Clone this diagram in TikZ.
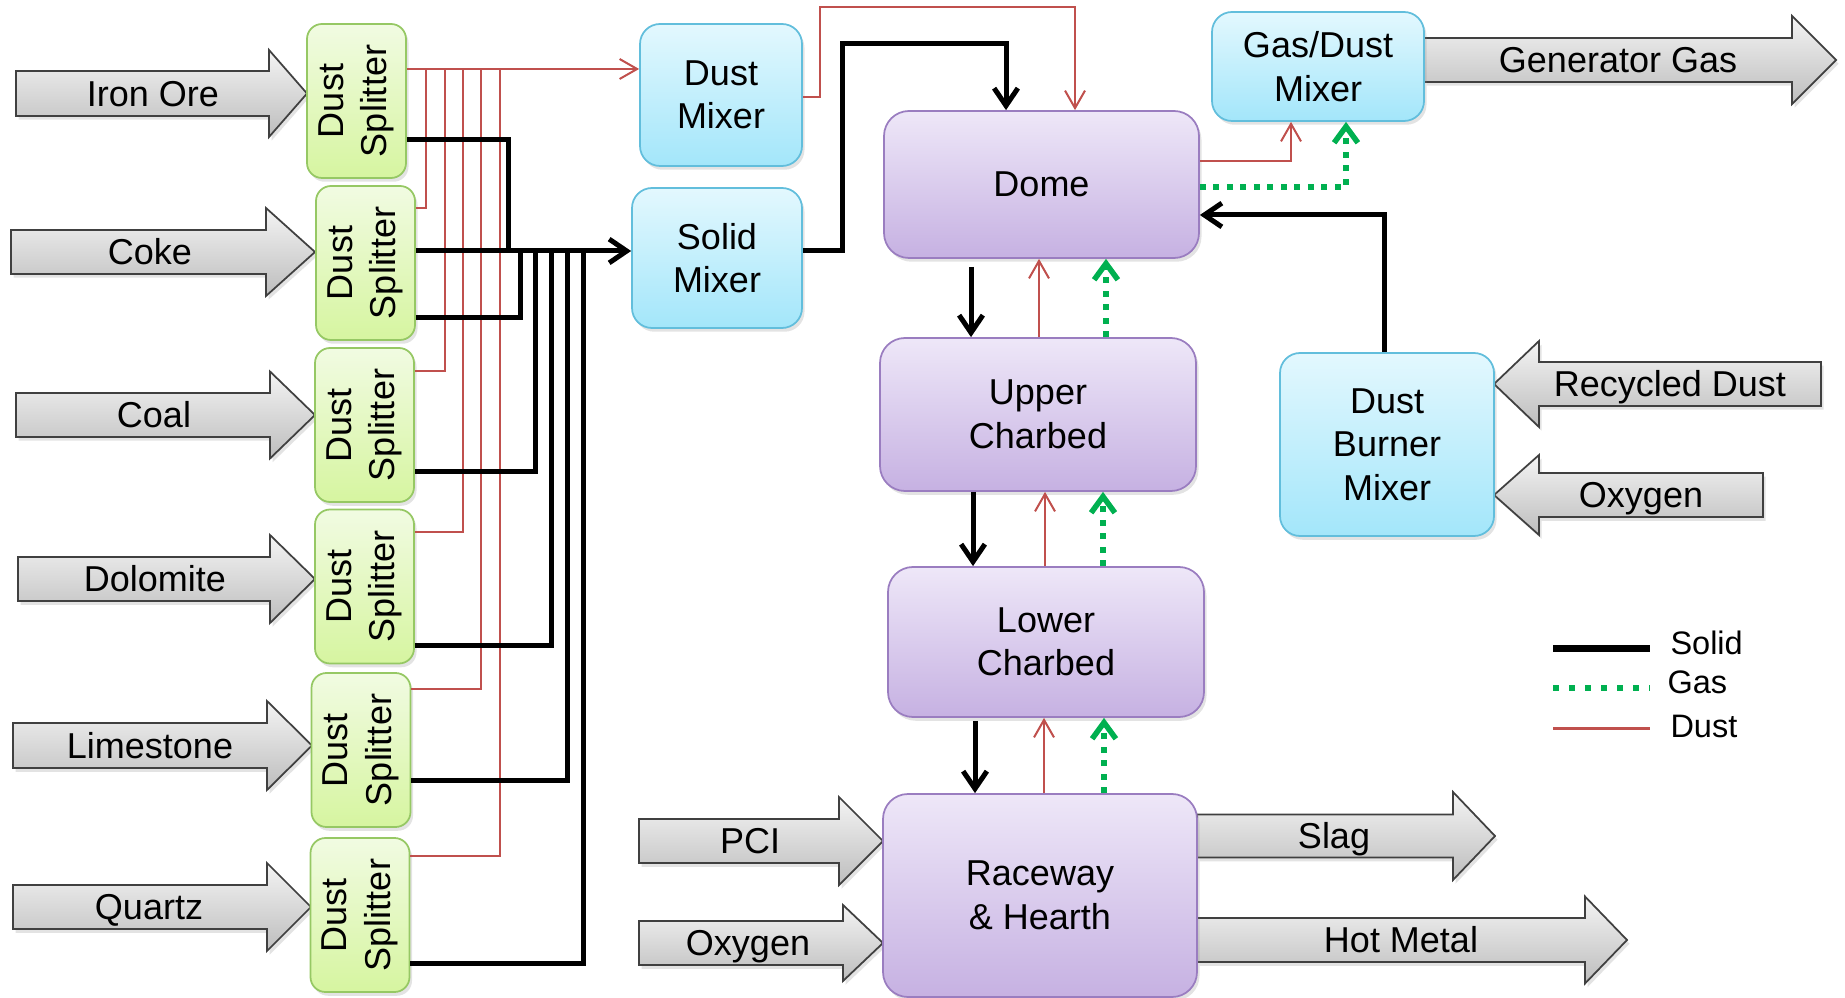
\documentclass[tikz,border=0pt]{standalone}
\usepackage{fontspec}
\setmainfont{Liberation Sans}
\usetikzlibrary{arrows.meta,shadows,calc}
\definecolor{dustred}{HTML}{C0504D}
\definecolor{gasgreen}{HTML}{00B050}
\definecolor{graytop}{HTML}{F4F4F4}
\definecolor{graybot}{HTML}{BDBDBD}
\definecolor{grayborder}{HTML}{404040}
\definecolor{splittop}{HTML}{F1FBE2}
\definecolor{splitbot}{HTML}{D6F5A0}
\definecolor{splitborder}{HTML}{96C864}
\definecolor{bluetop}{HTML}{E3F8FE}
\definecolor{bluebot}{HTML}{A3E6FA}
\definecolor{blueborder}{HTML}{62BEDC}
\definecolor{purptop}{HTML}{EEE7F8}
\definecolor{purpbot}{HTML}{C6B1E2}
\definecolor{purpborder}{HTML}{9A7DC0}
\newcommand\flowarrow[9]{%
  \path[grayarrow] (#1,#4-#5) -- (#2,#4-#5) -- (#2,#4-#6) -- (#3,#4) -- (#2,#4+#6) -- (#2,#4+#5) -- (#1,#4+#5) -- cycle;
  \node[lbl] (#7) at (#9,#4) {#8};}
\begin{document}
\begin{tikzpicture}[x=0.4pt,y=-0.4pt,
  every node/.style={font=\fontsize{14.4}{17.4}\selectfont},
  box/.style={rounded corners=8pt, inner sep=0pt, align=center, line width=0.7pt,
    drop shadow={shadow xshift=1pt,shadow yshift=-1.5pt,opacity=0.22}},
  splitbox/.style={box, rotate=90, draw=splitborder, top color=splittop, bottom color=splitbot,
    minimum width=61.6pt, minimum height=39.6pt, rounded corners=6pt},
  bluebox/.style={box, draw=blueborder, top color=bluetop, bottom color=bluebot},
  purpbox/.style={box, draw=purpborder, top color=purptop, bottom color=purpbot, rounded corners=10pt},
  grayarrow/.style={draw=grayborder, line width=0.7pt, top color=graytop, bottom color=graybot,
    drop shadow={shadow xshift=1pt,shadow yshift=-1.5pt,opacity=0.22}},
  lbl/.style={inner sep=0pt, text height=10.3pt, text depth=0pt},
  dustln/.style={draw=dustred, line width=0.8pt},
  dusttip/.style={dustln, -{Straight Barb[length=7pt,width=8pt,line width=0.8pt]}},
  solidln/.style={draw=black, line width=2pt},
  solidtip/.style={solidln, -{Straight Barb[length=7pt,width=9.5pt,line width=2pt]}},
  gasln/.style={draw=gasgreen, line width=2.2pt, dash pattern=on 2.4pt off 3pt},
  gastip/.style={gasln, -{Straight Barb[length=6.5pt,width=9.5pt,line width=2.2pt]}},
  legtxt/.style={anchor=west, inner sep=0pt, font=\fontsize{13}{15}\selectfont, text height=9.3pt, text depth=0pt}
]
\useasboundingbox (0,0) rectangle (1845,998);

% block arrows
\flowarrow{16}{269}{307}{93.5}{22.5}{43.5}{ironore}{Iron Ore}{153}
\flowarrow{11}{266}{315}{252}{22}{44}{coke}{Coke}{150}
\flowarrow{16}{270}{315}{415}{22}{43.5}{coal}{Coal}{154}
\flowarrow{18}{270}{315}{579}{22}{44}{dolomite}{Dolomite}{155}
\flowarrow{13}{267}{312}{745.5}{22.5}{44.5}{limestone}{Limestone}{150}
\flowarrow{13}{267}{311}{907}{22}{44}{quartz}{Quartz}{149}
\flowarrow{639}{839}{883}{841}{22}{44}{pci}{PCI}{750}
\flowarrow{639}{843}{883}{943}{22}{38}{oxyin}{Oxygen}{748}
\flowarrow{1197}{1453}{1495}{836}{21.5}{44}{slag}{Slag}{1334}
\flowarrow{1197}{1585}{1627}{940}{22}{43.5}{hotmetal}{Hot Metal}{1401}
\flowarrow{1424}{1792}{1836}{60}{22}{44}{gengas}{Generator Gas}{1618}
\flowarrow{1821}{1539}{1494}{384}{22}{43}{recdust}{Recycled Dust}{1670}
\flowarrow{1763}{1539}{1494}{495}{22}{40}{oxyburn}{Oxygen}{1641}

% boxes (splitters are rotated: their .south anchor is the right-hand side)
\node[splitbox] (s1) at (356.5,101) {Dust\\Splitter};
\node[splitbox] (s2) at (365.5,263) {Dust\\Splitter};
\node[splitbox] (s3) at (364.5,425) {Dust\\Splitter};
\node[splitbox] (s4) at (364.5,586.5) {Dust\\Splitter};
\node[splitbox] (s5) at (361,750) {Dust\\Splitter};
\node[splitbox] (s6) at (360,915) {Dust\\Splitter};
\node[bluebox, minimum width=64.8pt, minimum height=56.8pt] (dm) at (721,95) {Dust\\Mixer};
\node[bluebox, minimum width=68pt, minimum height=56pt] (sm) at (717,258) {Solid\\Mixer};
\node[bluebox, minimum width=84.8pt, minimum height=43.6pt] (gdm) at (1318,66.5) {Gas/Dust\\Mixer};
\node[bluebox, minimum width=85.6pt, minimum height=73.2pt] (dbm) at (1387,444.5) {Dust\\Burner\\Mixer};
\node[purpbox, minimum width=126pt, minimum height=58.8pt] (dome) at (1041.5,184.5) {Dome};
\node[purpbox, minimum width=126.4pt, minimum height=61.2pt] (upper) at (1038,414.5) {Upper\\Charbed};
\node[purpbox, minimum width=126.4pt, minimum height=60pt] (lower) at (1046,642) {Lower\\Charbed};
\node[purpbox, minimum width=125.6pt, minimum height=81.2pt] (rw) at (1040,895.5) {Raceway\\\& Hearth};

% dust connectors
\draw[dusttip] (s1.south |- 0,69) -- (dm.west |- 0,69);
\foreach \n/\y/\x in {s2/208/426, s3/371/445, s4/532/463, s5/689/481, s6/856/500}
  \draw[dustln] (\n.south |- 0,\y) -| (\x,69);
\draw[dusttip] (dm.east |- 0,97) -- (820,97) |- (1075,7) -- (1075,0 |- dome.north);
\draw[dusttip] (dome.east |- 0,161) -| (1291,0 |- gdm.south);
\draw[dusttip] (1039,0 |- upper.north) -- (1039,0 |- dome.south);
\draw[dusttip] (1045,0 |- lower.north) -- (1045,0 |- upper.south);
\draw[dusttip] (1044,0 |- rw.north) -- (1044,0 |- lower.south);

% gas connectors
\draw[gastip] (dome.east |- 0,187) -| (1346,0 |- gdm.south);
\draw[gastip] (1106,0 |- upper.north) -- (1106,0 |- dome.south);
\draw[gastip] (1103,0 |- lower.north) -- (1103,0 |- upper.south);
\draw[gastip] (1104,0 |- rw.north) -- (1104,0 |- lower.south);

% solid connectors
\draw[solidln] (s1.south |- 0,140) -| (508,251);
\foreach \n/\y/\x in {s2/318/520, s3/472/535, s4/645/551, s5/780/567, s6/963/583}
  \draw[solidln] (\n.south |- 0,\y) -| (\x,251);
\draw[solidtip] (s2.south |- 0,251) -- (sm.west |- 0,251);
\draw[solidtip] (sm.east |- 0,251) -- (842,251) |- (1006,44) -- (1006,0 |- dome.north);
\draw[solidtip] (1384,0 |- dbm.north) |- (dome.east |- 0,215);
\draw[solidtip, shorten <=3.2pt] (971,0 |- dome.south) -- (971,0 |- upper.north);
\draw[solidtip] (973,0 |- upper.south) -- (973,0 |- lower.north);
\draw[solidtip, shorten <=1.2pt] (975,0 |- lower.south) -- (975,0 |- rw.north);

% legend
\draw[draw=black, line width=2.8pt] (1553,648) -- (1650,648);
\draw[draw=gasgreen, line width=2.4pt, dash pattern=on 2.4pt off 4pt] (1553,688) -- (1650,688);
\draw[draw=dustred, line width=1.2pt] (1553,728) -- (1650,728);
\node[legtxt] (lgsolid) at (1670,643) {Solid};
\node[legtxt] (lggas) at (1667,682) {Gas};
\node[legtxt] (lgdust) at (1670,726) {Dust};
\end{tikzpicture}
\end{document}
